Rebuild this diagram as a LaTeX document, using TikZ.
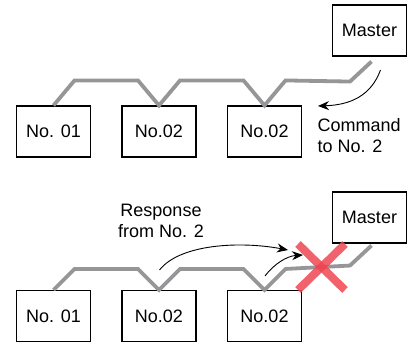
\documentclass[tikz,border=0pt]{standalone}
\usepackage{fontspec}
\setmainfont{Liberation Sans}
\usetikzlibrary{calc,arrows.meta}
\definecolor{busgray}{RGB}{150,150,152}
\definecolor{xred}{RGB}{238,70,82}
\tikzset{
  box/.style={draw=black, line width=1.1pt, minimum width=74pt, minimum height=51pt, inner sep=0pt, font=\fontsize{18}{21}\selectfont},
  bus/.style={draw=busgray, line width=3.8pt, line join=miter},
  lbl/.style={inner sep=0pt, font=\fontsize{18}{21}\selectfont},
  arr/.style={draw=black, line width=0.9pt, -{Stealth[length=11pt,width=9pt]}},
  cross/.style={draw=xred, line width=8pt, opacity=0.85}
}
\begin{document}
\begin{tikzpicture}[x=1pt,y=-1pt]
\useasboundingbox (0,0) rectangle (408,344);
% top panel
\node[box] (m1) at (369.5,30.5) {Master};
\node[box] (a1) at (53.5,131.5) {No. 01};
\node[box] (b1) at (159,131.5) {No.02};
\node[box] (c1) at (264.5,131.5) {No.02};
\draw[bus] (a1.north) -- ++(21,-25) -- ($(b1.north)+(-21,-25)$) -- (b1.north) -- ++(21,-25)
  -- ($(c1.north)+(-21,-25)$) -- (c1.north) -- ++(21,-25) -- ($(m1.south)+(-19.5,25)$) -- ($(m1.south)+(2,5)$);
\node[lbl, anchor=north west, align=left] (t1) at (317.5,118) {Command\\to No. 2};
\coordinate (s1) at (380.5,70);
\coordinate (e1) at (318,106);
\draw[arr] (s1) .. controls (371,96) and (350,105) .. (e1);
% bottom panel
\node[box] (m2) at (369.5,217.5) {Master};
\node[box] (a2) at (53.5,316) {No. 01};
\node[box] (b2) at (159,316) {No.02};
\node[box] (c2) at (264.5,316) {No.02};
\draw[bus] (a2.north) -- ++(21,-21) -- ($(b2.north)+(-21,-21)$) -- (b2.north) -- ++(21,-21)
  -- ($(c2.north)+(-21,-21)$) -- (c2.north) -- ++(21,-21) -- ($(m2.south)+(-19.5,22)$) -- ($(m2.south)+(2,2)$);
\node[lbl, anchor=north, align=center] (t2) at (161,203.5) {Response\\from No. 2};
\coordinate (s2) at (159.5,270);
\coordinate (e2) at (288,250);
\draw[arr] (s2) .. controls (180,244) and (240,241) .. (e2);
\coordinate (s3) at (265,276);
\coordinate (e3) at (303,255);
\draw[arr] (s3) .. controls (274,264) and (287,256) .. (e3);
\draw[cross] (298,244) -- (345,290);
\draw[cross] (298,290) -- (345,244);
\end{tikzpicture}
\end{document}
